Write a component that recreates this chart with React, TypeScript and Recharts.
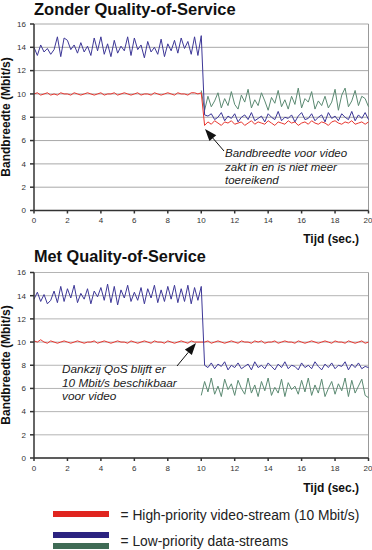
import React from 'react';
import { LineChart, Line, XAxis, YAxis, CartesianGrid, ReferenceLine } from 'recharts';

// samples every 0.2 s, from 0 to 20 s
const STEP = 0.2;
const xTicks = [0, 2, 4, 6, 8, 10, 12, 14, 16, 18, 20];
const yTicks = [0, 2, 4, 6, 8, 10, 12, 14, 16];

// Zonder QoS
const topBlue = [
  14.0, 13.3, 14.2, 13.6, 13.9, 13.4, 13.8, 14.9, 13.2, 14.8,
  14.6, 13.8, 14.2, 13.5, 14.4, 13.6, 14.1, 13.3, 14.8, 13.7,
  14.9, 13.4, 14.3, 13.2, 14.6, 13.5, 14.1, 13.7, 14.9, 13.3,
  14.8, 13.8, 14.2, 13.1, 14.5, 13.6, 14.0, 13.4, 14.7, 13.2,
  14.3, 13.7, 14.6, 13.5, 14.8, 13.9, 14.5, 13.4, 14.9, 13.3,
  15.0,
  8.2, 8.1, 8.3, 7.8, 8.0, 8.4, 7.7, 8.1, 7.9, 8.3,
  7.6, 8.0, 8.2, 7.8, 8.4, 7.7, 7.9, 8.1, 7.6, 8.3,
  8.0, 7.8, 8.5, 7.7, 8.0, 7.9, 8.2, 7.6, 8.1, 8.4,
  7.8, 7.9, 8.3, 7.7, 8.0, 8.2, 7.6, 8.4, 7.9, 8.1,
  7.7, 8.3, 8.0, 7.8, 8.5, 7.7, 8.2, 7.9, 8.4, 7.8,
];
const topRed = [
  10.0, 10.1, 9.9, 10.0, 10.1, 9.9, 10.0, 9.9, 10.1, 10.0,
  10.0, 9.9, 10.1, 10.0, 9.9, 10.0, 10.1, 10.0, 9.9, 10.0,
  10.1, 9.9, 10.0, 10.0, 10.1, 9.9, 10.0, 10.1, 10.0, 9.9,
  10.0, 10.1, 9.9, 10.0, 10.0, 9.9, 10.1, 10.0, 9.9, 10.0,
  10.1, 10.0, 9.9, 10.1, 10.0, 10.0, 9.9, 10.1, 10.1, 10.0,
  10.1,
  7.3, 7.6, 7.4, 7.7, 7.5, 7.3, 7.6, 7.5, 7.7, 7.4,
  7.5, 7.6, 7.3, 7.5, 7.7, 7.4, 7.6, 7.5, 7.4, 7.7,
  7.5, 7.3, 7.6, 7.5, 7.4, 7.7, 7.5, 7.6, 7.3, 7.5,
  7.6, 7.4, 7.7, 7.5, 7.4, 7.6, 7.5, 7.3, 7.6, 7.7,
  7.5, 7.4, 7.6, 7.5, 7.7, 7.4, 7.5, 7.6, 7.4, 7.6,
];
// green starts at 10 s
const topGreen = [
  10.3, 8.6, 9.8, 8.9, 9.4, 10.1, 8.8, 9.6, 9.0, 10.2,
  9.1, 8.7, 9.9, 9.3, 10.4, 8.8, 9.5, 9.0, 10.1, 9.4,
  8.6, 9.7, 9.2, 10.3, 8.9, 9.5, 8.7, 9.8, 9.1, 10.5,
  8.8, 9.6, 9.3, 10.2, 8.7, 9.4, 9.0, 9.8, 8.8, 9.3,
  10.4, 8.6, 9.9, 10.5, 8.9, 9.4, 10.3, 9.0, 9.8, 9.6,
  8.9,
];

// Met QoS
const bottomBlue = [
  13.7, 14.3, 13.5, 14.1, 13.3, 13.6, 14.4, 13.4, 14.8, 13.5,
  14.6, 13.8, 14.9, 13.4, 14.2, 13.7, 14.6, 13.3, 14.4, 13.9,
  14.7, 13.6, 15.0, 13.4, 14.8, 13.2, 14.5, 13.8, 14.9, 13.5,
  14.3, 13.6, 14.7, 13.3, 14.6, 13.8, 14.9, 13.4, 14.5, 13.5,
  14.8, 13.7, 14.9, 13.4, 14.6, 13.5, 14.9, 13.3, 14.7, 13.6,
  14.8,
  8.0, 7.8, 8.2, 7.7, 8.1, 7.9, 8.3, 7.6, 8.0, 7.8,
  8.2, 7.7, 7.9, 8.1, 7.6, 8.3, 7.8, 8.0, 7.7, 8.2,
  7.9, 7.6, 8.1, 7.8, 8.3, 7.7, 8.0, 7.9, 7.6, 8.2,
  7.8, 8.0, 7.7, 8.3, 7.9, 7.6, 8.1, 7.8, 8.2, 7.7,
  8.0, 7.9, 8.3, 7.6, 8.1, 7.8, 8.2, 7.7, 7.9, 7.8,
];
const bottomRed = [
  10.1, 10.0, 10.2, 10.0, 9.9, 10.1, 10.0, 9.9, 10.0, 10.1,
  10.0, 9.9, 10.0, 10.1, 10.0, 9.9, 10.0, 10.0, 10.1, 9.9,
  10.0, 10.1, 10.0, 9.9, 10.0, 10.1, 10.0, 10.0, 9.9, 10.1,
  10.0, 9.9, 10.0, 10.1, 10.0, 9.9, 10.1, 10.0, 10.0, 9.9,
  10.1, 10.0, 9.9, 10.0, 10.1, 10.0, 9.9, 10.1, 10.0, 10.0,
  10.0,
  10.0, 10.1, 9.9, 10.0, 10.1, 10.0, 9.9, 10.0, 10.1, 10.0,
  9.9, 10.1, 10.0, 10.0, 9.9, 10.1, 10.0, 10.1, 9.9, 10.0,
  10.0, 10.1, 9.9, 10.0, 10.1, 10.0, 10.0, 9.9, 10.1, 10.0,
  9.9, 10.0, 10.1, 10.0, 9.9, 10.0, 10.1, 10.0, 9.9, 10.1,
  10.0, 10.0, 9.9, 10.1, 10.0, 9.9, 10.0, 10.1, 9.9, 10.0,
];
const bottomGreen = [
  5.4, 6.6, 5.7, 6.9, 5.5, 6.2, 5.3, 6.8, 5.9, 6.4,
  5.4, 6.7, 6.0, 5.5, 6.9, 5.6, 6.3, 5.3, 6.6, 5.8,
  6.9, 5.4, 6.1, 5.6, 6.8, 5.3, 6.5, 5.9, 6.2, 5.5,
  6.7, 5.7, 6.9, 5.4, 6.3, 5.6, 6.8, 5.3, 6.0, 6.6,
  5.5, 6.4, 5.8, 6.9, 5.3, 6.7, 5.6, 6.2, 6.8, 5.4,
  5.2,
];

const GREEN_START = 50; // index of t = 10 s

const FONT = '"Liberation Sans", Arial, sans-serif';
const RED = '#e8352e';
const BLUE = '#3d3797';
const GREEN = '#5b8a72';

const buildRows = (blue: number[], red: number[], green: number[]) =>
  blue.map((v, i) => ({
    t: Math.round(i * STEP * 10) / 10,
    blue: v,
    red: red[i],
    green: i >= GREEN_START ? green[i - GREEN_START] : null,
  }));

const topRows = buildRows(topBlue, topRed, topGreen);
const bottomRows = buildRows(bottomBlue, bottomRed, bottomGreen);

const tickStyle = { fontSize: 8, fill: '#333', fontFamily: FONT };

const QosChart = ({ rows, margin, gridColor }: any) => (
  <LineChart width={372} height={250} data={rows} margin={margin}>
    <CartesianGrid vertical={false} stroke={gridColor} />
    <XAxis
      dataKey="t"
      type="number"
      domain={[0, 20]}
      ticks={xTicks}
      tick={tickStyle}
      tickSize={3}
      tickMargin={4}
      stroke="#333"
      strokeWidth={1.5}
      height={20}
    />
    <YAxis
      type="number"
      domain={[0, 16]}
      ticks={yTicks}
      tick={tickStyle}
      tickSize={4}
      tickMargin={4}
      stroke="#333"
      strokeWidth={1.5}
      width={24}
    />
    <ReferenceLine x={20} stroke="#999" />
    <Line dataKey="green" stroke={GREEN} strokeWidth={1} dot={false} isAnimationActive={false} />
    <Line dataKey="red" stroke={RED} strokeWidth={1} dot={false} isAnimationActive={false} />
    <Line dataKey="blue" stroke={BLUE} strokeWidth={1} dot={false} isAnimationActive={false} />
  </LineChart>
);

const Arrow = ({ tip, tail }: { tip: number[]; tail: number[] }) => {
  const dx = tip[0] - tail[0];
  const dy = tip[1] - tail[1];
  const len = Math.hypot(dx, dy);
  const ux = dx / len;
  const uy = dy / len;
  const bx = tip[0] - ux * 12;
  const by = tip[1] - uy * 12;
  const pts = `${tip[0]},${tip[1]} ${bx - uy * 4.5},${by + ux * 4.5} ${bx + uy * 4.5},${by - ux * 4.5}`;
  return (
    <g>
      <line x1={tail[0]} y1={tail[1]} x2={bx} y2={by} stroke="#111" strokeWidth={1} />
      <polygon points={pts} fill="#111" />
    </g>
  );
};

export default function App() {
  return (
    <div style={{ position: 'absolute', left: 0, top: 0, width: 372, height: 550, background: '#fff' }}>
      <div style={{ position: 'absolute', left: 0, top: 0 }}>
        <QosChart rows={topRows} gridColor="#a8a8a8" margin={{ top: 24, right: 3.5, bottom: 19.5, left: 10 }} />
      </div>
      <div style={{ position: 'absolute', left: 0, top: 250 }}>
        <QosChart rows={bottomRows} gridColor="#b4b4b4" margin={{ top: 22.5, right: 3.5, bottom: 22, left: 10 }} />
      </div>
      <svg
        width={372}
        height={550}
        style={{ position: 'absolute', left: 0, top: 0, pointerEvents: 'none' }}
        fontFamily={FONT}
      >
        {/* titles */}
        <text x={34} y={15} fontSize={16.5} fontWeight="bold" fill="#111">Zonder Quality-of-Service</text>
        <text x={34} y={262} fontSize={16.3} fontWeight="bold" fill="#111">Met Quality-of-Service</text>

        {/* axis titles */}
        <text x={10} y={117} fontSize={12} fontWeight="bold" fill="#111" textAnchor="middle" transform="rotate(-90 10 117)">
          Bandbreedte (Mbit/s)
        </text>
        <text x={10} y={365} fontSize={12} fontWeight="bold" fill="#111" textAnchor="middle" transform="rotate(-90 10 365)">
          Bandbreedte (Mbit/s)
        </text>
        <text x={359} y={243} fontSize={12} fontWeight="bold" fill="#111" textAnchor="end">Tijd (sec.)</text>
        <text x={359} y={492} fontSize={12} fontWeight="bold" fill="#111" textAnchor="end">Tijd (sec.)</text>

        {/* annotations */}
        <Arrow tip={[205, 129]} tail={[224, 151]} />
        <g fontSize={11.5} fontStyle="italic" fill="#222">
          <text x={225} y={157}>Bandbreedte voor video</text>
          <text x={225} y={170.5}>zakt in en is niet meer</text>
          <text x={225} y={184}>toereikend</text>
        </g>
        <Arrow tip={[196, 343]} tail={[177, 366]} />
        <g fontSize={11.8} fontStyle="italic" fill="#222">
          <text x={62} y={372.5}>Dankzij QoS blijft er</text>
          <text x={62} y={386.5}>10 Mbit/s beschikbaar</text>
          <text x={62} y={400}>voor video</text>
        </g>

        {/* legend */}
        <rect x={53} y={511} width={56} height={6} fill="#e0251f" />
        <rect x={53} y={532} width={56} height={6} fill="#2b2380" />
        <rect x={53} y={543} width={56} height={6} fill="#3f6b55" />
        <text x={120.5} y={520} fontSize={13.8} fill="#222">= High-priority video-stream (10 Mbit/s)</text>
        <text x={120.5} y={546} fontSize={13.8} fill="#222">= Low-priority data-streams</text>
      </svg>
    </div>
  );
}
